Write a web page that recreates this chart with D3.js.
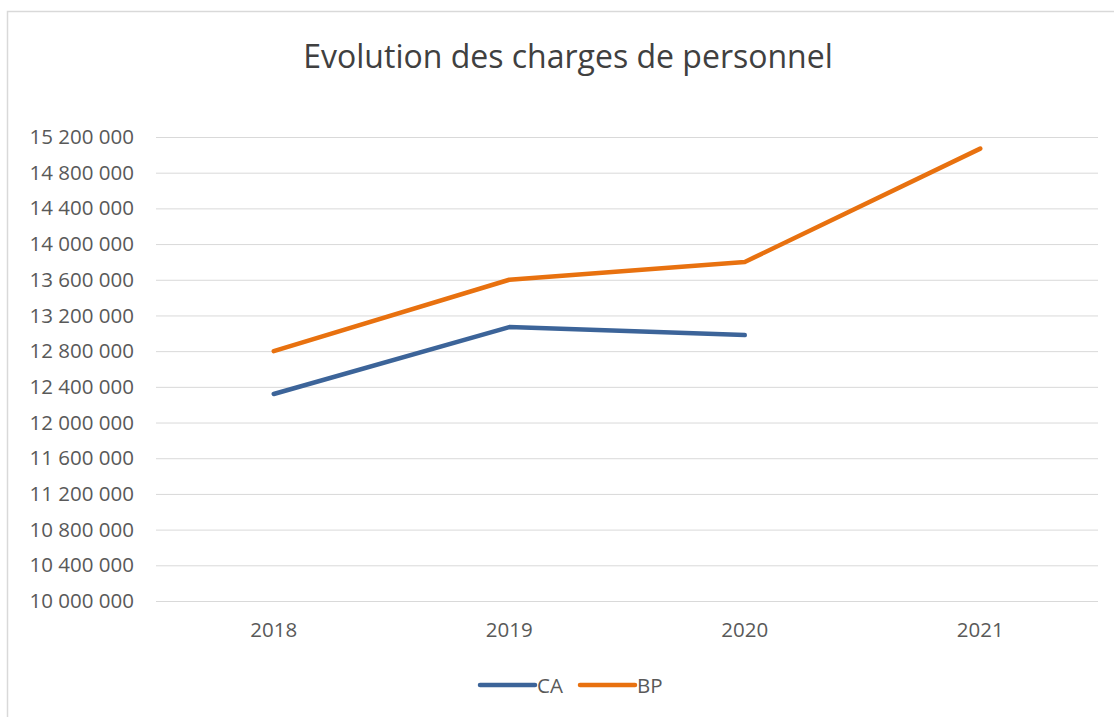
<!DOCTYPE html>
<html>
<head>
<meta charset="utf-8">
<script src="https://cdn.jsdelivr.net/npm/d3@7"></script>
<style>
  body { margin: 0; background: #fff; }
  svg { display: block; font-family: "Open Sans", sans-serif; }
  .tick text { fill: #595959; }
</style>
</head>
<body>
<svg id="chart" width="1114" height="717"></svg>
<script>
// data
const years = ['2018', '2019', '2020', '2021'];
const caValues = [12320000, 13070000, 12980000, null];
const bpValues = [12800000, 13600000, 13800000, 15070000];
const yTicks = [10000000, 10400000, 10800000, 11200000, 11600000, 12000000,
  12400000, 12800000, 13200000, 13600000, 14000000, 14400000, 14800000, 15200000];
const seriesNames = ['CA', 'BP'];
const seriesColours = ['#3c6499', '#e8710f'];

const svg = d3.select('#chart');
const width = +svg.attr('width');
const height = +svg.attr('height');
const margin = { top: 137, right: 16, bottom: 116, left: 156 };
const innerWidth = width - margin.left - margin.right;
const innerHeight = height - margin.top - margin.bottom;

// chart frame (only top and left edges are inside the window)
svg.append('path')
    .attr('d', `M7.5,${height} V11.5 H${width}`)
    .attr('fill', 'none')
    .attr('stroke', '#d9d9d9')
    .attr('stroke-width', 1.5);

svg.append('text')
    .attr('x', 568)
    .attr('y', 68)
    .attr('text-anchor', 'middle')
    .attr('fill', '#404040')
    .style('font-size', '32px')
    .text('Evolution des charges de personnel');

const g = svg.append('g')
    .attr('transform', `translate(${margin.left},${margin.top})`);

const xScale = d3.scaleBand()
    .domain(years)
    .range([0, innerWidth]);

const yScale = d3.scaleLinear()
    .domain([10000000, 15200000])
    .range([innerHeight, 0]);

const locale = d3.formatLocale({ decimal: ',', thousands: ' ', grouping: [3], currency: ['', ''] });
const fmt = locale.format(',d');

// gridlines + y labels
const yAxis = d3.axisLeft(yScale)
    .tickValues(yTicks)
    .tickFormat(fmt)
    .tickSize(-innerWidth)
    .tickPadding(22);

const yAxisG = g.append('g').attr('class', 'axis y-axis').call(yAxis);
yAxisG.select('.domain').remove();
yAxisG.selectAll('.tick line').attr('stroke', '#d9d9d9').attr('stroke-width', 1);
yAxisG.selectAll('.tick text').style('font-size', '20.5px').attr('font-family', '"Open Sans", sans-serif');

const xAxis = d3.axisBottom(xScale).tickSize(0).tickPadding(21);
const xAxisG = g.append('g')
    .attr('class', 'axis x-axis')
    .attr('transform', `translate(0,${innerHeight})`)
    .call(xAxis);
xAxisG.select('.domain').remove();
xAxisG.selectAll('.tick text').style('font-size', '20.5px').attr('font-family', '"Open Sans", sans-serif');

// lines
const line = d3.line()
    .defined(d => d.value != null)
    .x(d => xScale(d.year) + xScale.bandwidth() / 2)
    .y(d => yScale(d.value));

[caValues, bpValues].forEach((values, i) => {
  g.append('path')
      .datum(years.map((year, j) => ({ year, value: values[j] })))
      .attr('fill', 'none')
      .attr('stroke', seriesColours[i])
      .attr('stroke-width', 4.5)
      .attr('stroke-linecap', 'round')
      .attr('stroke-linejoin', 'round')
      .attr('d', line);
});

// legend
const legendX = [480, 580];
seriesNames.forEach((name, i) => {
  const lg = svg.append('g').attr('transform', `translate(${legendX[i]},685)`);
  lg.append('line')
      .attr('x1', 0).attr('x2', 55)
      .attr('stroke', seriesColours[i])
      .attr('stroke-width', 4.5)
      .attr('stroke-linecap', 'round');
  lg.append('text')
      .attr('x', 57)
      .attr('y', 7.5)
      .attr('fill', '#595959')
      .style('font-size', '20.5px')
      .text(name);
});
</script>
</body>
</html>
